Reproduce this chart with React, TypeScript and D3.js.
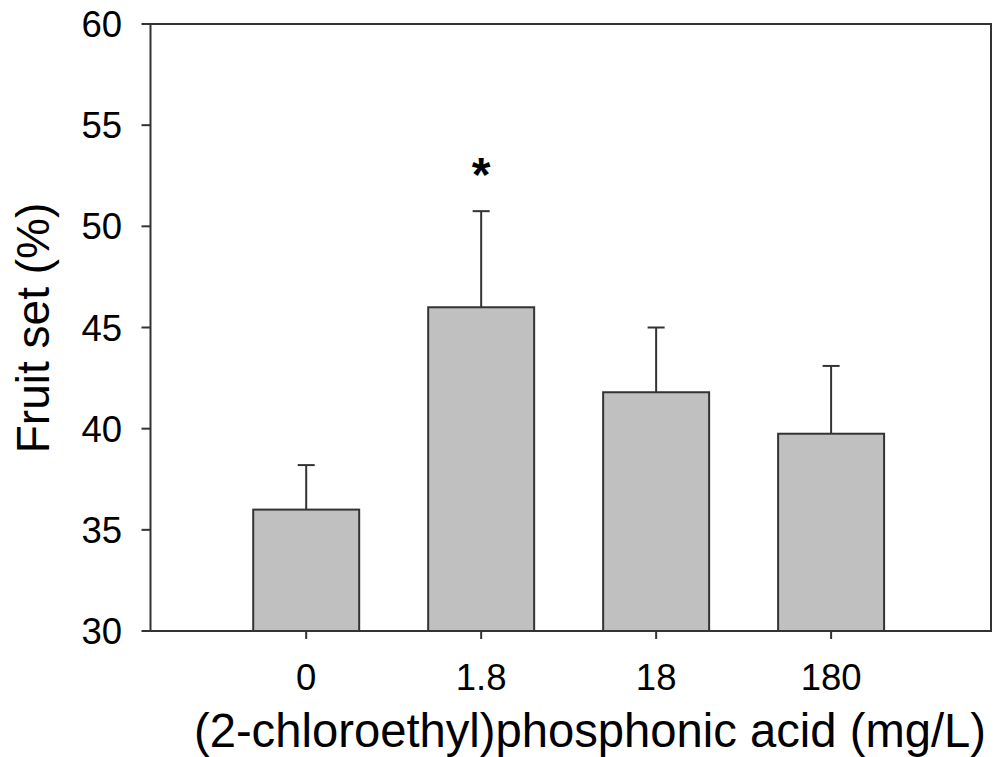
import React from "react";
import * as d3 from "d3";

const categories = ["0", "1.8", "18", "180"];
const means = [36.0, 46.0, 41.8, 39.75];
const errorTops = [38.2, 50.75, 45.0, 43.1];
const significant = [false, true, false, false];
const yTicks = [30, 35, 40, 45, 50, 55, 60];
const xTitle = "(2-chloroethyl)phosphonic acid (mg/L)";
const yTitle = "Fruit set (%)";

const W = 995;
const H = 757;
const left = 150.5;
const right = 991;
const top = 24;
const bottom = 631;
const stroke = "#333";
const font = "Arial, 'Liberation Sans', sans-serif";

export default function App() {
  const y = d3.scaleLinear().domain([30, 60]).range([bottom, top]);
  const x = d3
    .scaleBand<string>()
    .domain(categories)
    .range([left, right])
    .paddingInner(0.3943)
    .paddingOuter(0.599)
    .align(0.49);
  const bw = x.bandwidth();
  const capW = 17;

  return (
    <svg
      width={W}
      height={H}
      style={{ position: "absolute", left: 0, top: 0, background: "#fff" }}
    >
      {/* bars */}
      {categories.map((c, i) => {
        const x0 = x(c)!;
        const cx = x0 + bw / 2;
        return (
          <g key={c}>
            <line
              x1={cx}
              x2={cx}
              y1={y(means[i])}
              y2={y(errorTops[i])}
              stroke={stroke}
              strokeWidth={2}
            />
            <line
              x1={cx - capW / 2}
              x2={cx + capW / 2}
              y1={y(errorTops[i])}
              y2={y(errorTops[i])}
              stroke={stroke}
              strokeWidth={2}
            />
            <rect
              x={x0}
              y={y(means[i])}
              width={bw}
              height={y(30) - y(means[i])}
              fill="#c0c0c0"
              stroke={stroke}
              strokeWidth={2}
            />
            {significant[i] && (
              <text
                x={cx}
                y={y(errorTops[i]) - 20}
                textAnchor="middle"
                fontFamily={font}
                fontWeight="bold"
                fontSize={48}
                fill="#000"
              >
                *
              </text>
            )}
          </g>
        );
      })}

      {/* frame */}
      <rect
        x={left}
        y={top}
        width={right - left}
        height={bottom - top}
        fill="none"
        stroke={stroke}
        strokeWidth={2}
      />

      {/* y ticks */}
      {yTicks.map((t) => (
        <g key={t}>
          <line
            x1={left - 9}
            x2={left}
            y1={y(t)}
            y2={y(t)}
            stroke={stroke}
            strokeWidth={2}
          />
          <text
            x={122}
            y={y(t)}
            dy="0.36em"
            textAnchor="end"
            fontFamily={font}
            fontSize={36.5}
            fill="#000"
          >
            {t}
          </text>
        </g>
      ))}

      {/* x ticks */}
      {categories.map((c) => {
        const cx = x(c)! + bw / 2;
        return (
          <g key={c}>
            <line
              x1={cx}
              x2={cx}
              y1={bottom}
              y2={bottom + 8}
              stroke={stroke}
              strokeWidth={2}
            />
            <text
              x={cx}
              y={690}
              textAnchor="middle"
              fontFamily={font}
              fontSize={36.5}
              fill="#000"
            >
              {c}
            </text>
          </g>
        );
      })}

      {/* titles */}
      <text
        x={590}
        y={747}
        textAnchor="middle"
        fontFamily={font}
        fontSize={47.2}
        fill="#000"
      >
        {xTitle}
      </text>
      <text
        transform={`translate(49, 328) rotate(-90)`}
        textAnchor="middle"
        fontFamily={font}
        fontSize={46}
        fill="#000"
      >
        {yTitle}
      </text>
    </svg>
  );
}
